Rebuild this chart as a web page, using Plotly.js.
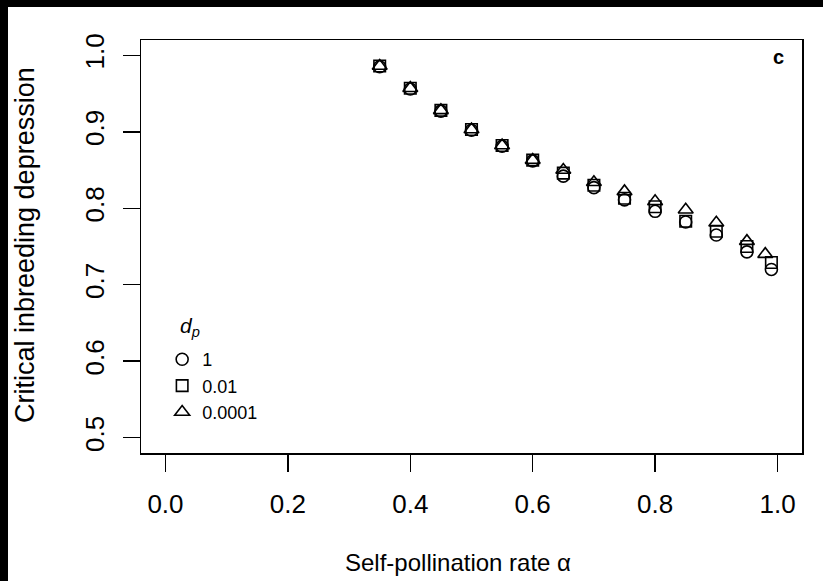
<!DOCTYPE html>
<html>
<head>
<meta charset="utf-8">
<script src="https://cdn.plot.ly/plotly-3.0.1.min.js"></script>
<style>
html,body{margin:0;padding:0;background:#fff;width:823px;height:581px;overflow:hidden;}
#chart{position:absolute;left:0;top:0;width:823px;height:581px;}
</style>
</head>
<body>
<div id="chart"></div>
<script>
// Self-pollination rate alpha
const alphaCircle = [0.35,0.40,0.45,0.50,0.55,0.60,0.65,0.70,0.75,0.80,0.85,0.90,0.95,0.99];
const alphaSquare = [0.35,0.40,0.45,0.50,0.55,0.60,0.65,0.70,0.75,0.80,0.85,0.90,0.95,0.99];
const alphaTriangle = [0.35,0.40,0.45,0.50,0.55,0.60,0.65,0.70,0.75,0.80,0.85,0.90,0.95,0.98];
// Critical inbreeding depression
const dp1 = [0.985,0.956,0.927,0.902,0.881,0.862,0.842,0.827,0.811,0.796,0.782,0.765,0.743,0.720];
const dp001 = [0.986,0.957,0.928,0.903,0.882,0.863,0.846,0.830,0.813,0.802,0.783,0.770,0.750,0.729];
const dp00001 = [0.986,0.957,0.928,0.903,0.882,0.863,0.850,0.834,0.822,0.809,0.798,0.781,0.757,0.740];
const seriesNames = ['1','0.01','0.0001'];
const xTicks = [0,0.2,0.4,0.6,0.8,1.0];
const yTicks = [0.5,0.6,0.7,0.8,0.9,1.0];

const font = 'Liberation Sans, Arial, sans-serif';
function tr(x,y,name,sym,sz){
  return {x:x,y:y,name:name,type:'scatter',mode:'markers',
    marker:{symbol:sym,size:sz,color:'#000',line:{color:'#000',width:1.6}}};
}
const data=[
  tr(alphaCircle,dp1,seriesNames[0],'circle-open',12),
  tr(alphaSquare,dp001,seriesNames[1],'square-open',11.5),
  tr(alphaTriangle,dp00001,seriesNames[2],'triangle-up-open',13)
];
const L=141,R=21,T=40,B=128,W=823-L-R,H=581-T-B;
const px=v=>(v-L)/W, py=v=>(581-B-v)/H;
const layout={
  width:823,height:581,
  margin:{l:L,r:R,t:T,b:B},
  paper_bgcolor:'#fff',plot_bgcolor:'#fff',
  font:{family:font,color:'#000'},
  xaxis:{range:[-0.04,1.04],tickvals:xTicks,ticktext:xTicks.map(v=>v.toFixed(1)),
    showgrid:false,zeroline:false,showline:true,mirror:true,linecolor:'#000',linewidth:1.5,
    ticks:'outside',ticklen:17,tickwidth:1.5,tickcolor:'#000',ticklabelstandoff:10,
    tickfont:{size:26,family:font}},
  yaxis:{range:[0.48,1.02],tickvals:yTicks,ticktext:yTicks.map(v=>v.toFixed(1)),tickangle:-90,
    showgrid:false,zeroline:false,showline:true,mirror:true,linecolor:'#000',linewidth:1.5,
    ticks:'outside',ticklen:17,tickwidth:1.5,tickcolor:'#000',ticklabelstandoff:8,
    tickfont:{size:26,family:font}},
  showlegend:true,
  legend:{x:0.032,y:py(341),xanchor:'left',yanchor:'top',bgcolor:'rgba(0,0,0,0)',
    font:{size:18,family:font},tracegroupgap:0},
  shapes:[
    {type:'rect',xref:'paper',yref:'paper',x0:px(-5),x1:px(8),y0:py(590),y1:py(-5),fillcolor:'#000',line:{width:0},layer:'above'},
    {type:'rect',xref:'paper',yref:'paper',x0:px(-5),x1:px(830),y0:py(7),y1:py(-5),fillcolor:'#000',line:{width:0},layer:'above'}
  ],
  annotations:[
    {xref:'paper',yref:'paper',x:0.976,y:0.96,xanchor:'right',yanchor:'middle',
     text:'<b>c</b>',showarrow:false,font:{size:20,family:font}},
    {xref:'paper',yref:'paper',x:px(25),y:py(245),xanchor:'center',yanchor:'middle',textangle:-90,
     text:'Critical inbreeding depression',showarrow:false,font:{size:27,family:font}},
    {xref:'paper',yref:'paper',x:px(458),y:py(562),xanchor:'center',yanchor:'middle',
     text:'Self-pollination rate α',showarrow:false,font:{size:24,family:font}},
    {xref:'paper',yref:'paper',x:px(178),y:py(327),xanchor:'left',yanchor:'middle',
     text:'<i>d<sub>p</sub></i>',showarrow:false,font:{size:21,family:font}}
  ]
};
Plotly.newPlot('chart',data,layout,{displayModeBar:false,staticPlot:true});
</script>
</body>
</html>
